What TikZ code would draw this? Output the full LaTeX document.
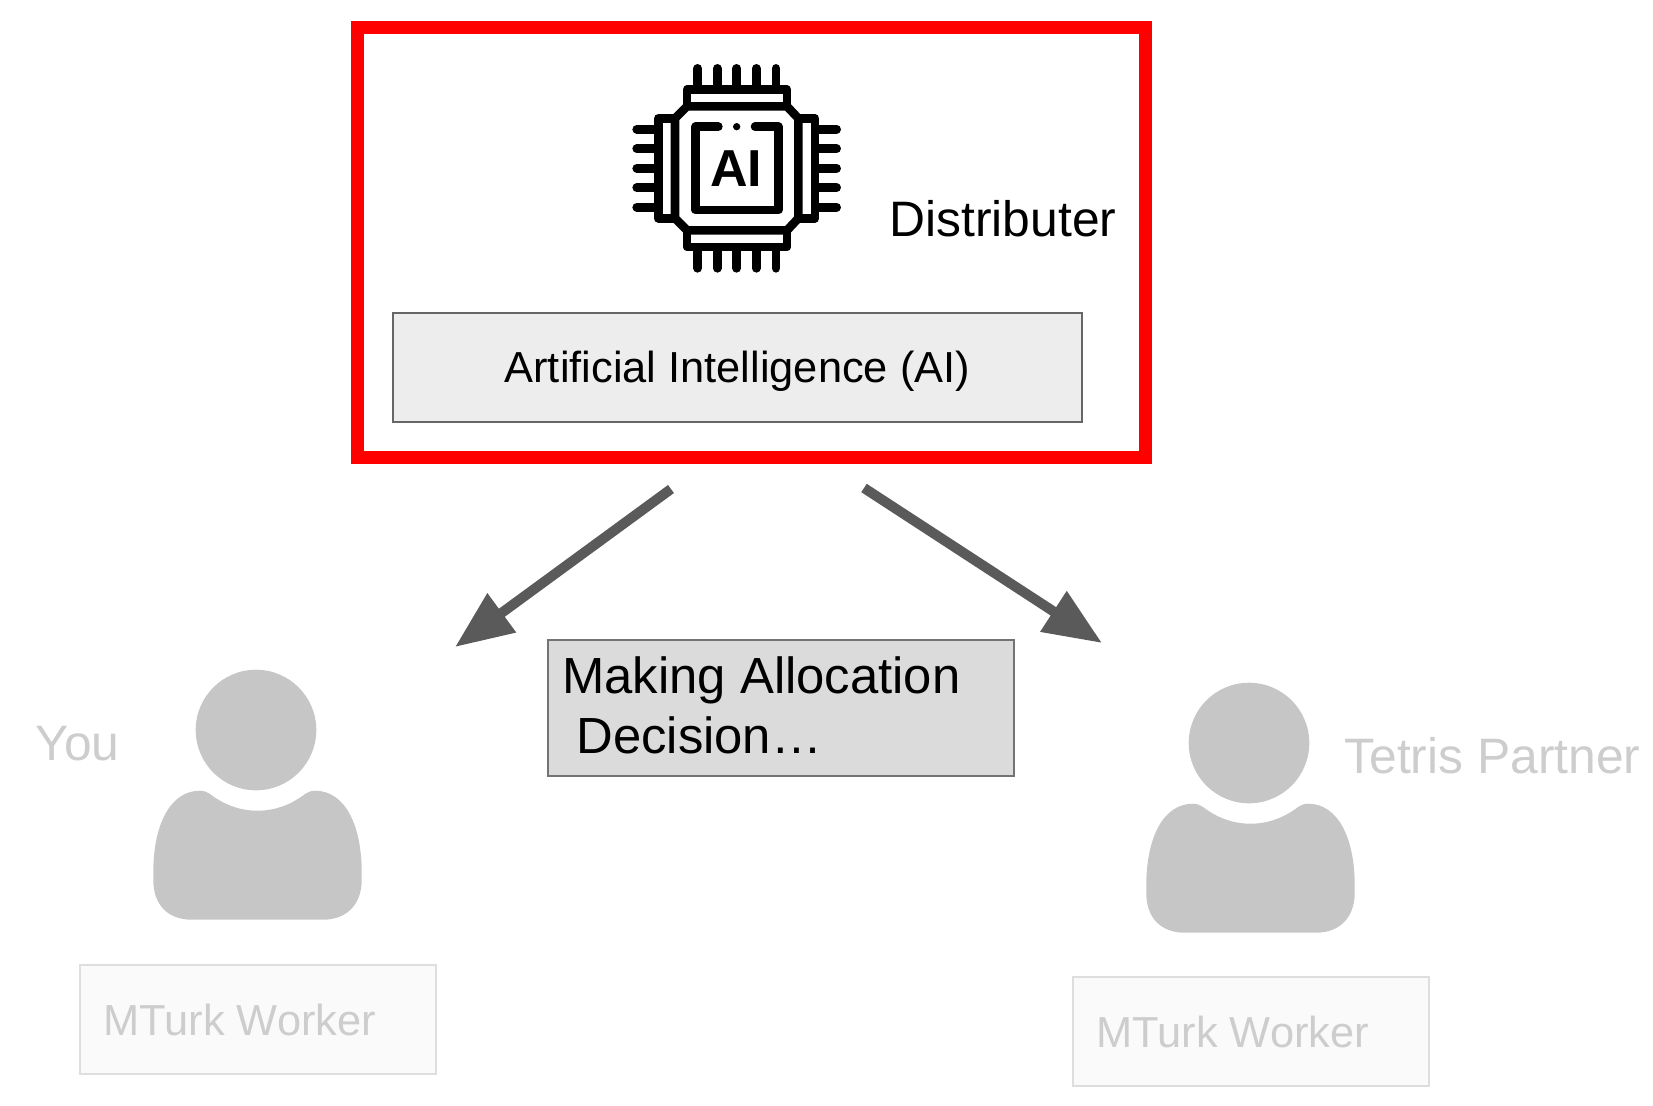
\documentclass[tikz,border=0pt]{standalone}
\usepackage{fontspec}
\setmainfont{Liberation Sans}
\usetikzlibrary{arrows.meta}
\definecolor{faded}{HTML}{CDCDCD}
\definecolor{headgray}{HTML}{C6C6C6}
\definecolor{arrowgray}{HTML}{5A5A5A}
\tikzset{
  darkarrow/.style={line width=5pt,arrowgray,-{Triangle[length=29pt,width=23pt]}},
  label/.style={anchor=base west,inner sep=0pt,font=\fontsize{24.9}{29.5}\selectfont},
  workerbox/.style={draw=black!13,fill=black!2,line width=1pt,minimum width=178pt,minimum height=54.5pt,inner sep=0pt},
  worker/.style={anchor=base west,inner sep=0pt,text=faded,font=\fontsize{21.7}{26}\selectfont},
  person/.pic={
    \fill[headgray] (0,0) circle (60.3);
    \fill[headgray] (-102.7,142.3) .. controls (-102.7,95) and (-86,60.7) .. (-56,60.7)
      .. controls (-52,60.7) and (-49,62) .. (-46,64)
      .. controls (-33,74) and (-17,80.7) .. (1.5,80.7)
      .. controls (20,80.7) and (36,74) .. (49,64)
      .. controls (52,62) and (55,60.7) .. (59,60.7)
      .. controls (89,60.7) and (105.7,95) .. (105.7,142.3)
      -- (105.7,150) .. controls (105.7,175) and (90,189.7) .. (67,189.7)
      -- (-64,189.7) .. controls (-88,189.7) and (-102.7,175) .. (-102.7,150) -- cycle;
  }
}
\begin{document}
\begin{tikzpicture}[x=.5pt,y=-.5pt]
  \useasboundingbox (0,0) rectangle (1653,1105);
  \node[draw=red,line width=6.5pt,minimum width=394pt,minimum height=215pt,inner sep=0pt] (frame) at (751.5,242.5) {};
  \node[draw=black!60,fill=black!7,line width=1pt,minimum width=344.5pt,minimum height=54.5pt,inner sep=0pt,
    text height=17pt,text depth=1.8pt,font=\fontsize{21.7}{26}\selectfont] (aibox) at (737.3,367) {Artificial Intelligence (AI)};
  \node[label] (distributer) at (889,236) {Distributer};
  \begin{scope}[shift={(600,40)},x=.5/3*1pt,y=-.5/3*1pt,line width=4.3pt,line join=round,line cap=round]
    \foreach \p in {293,352,410,469,528}{
      \draw (\p,85)--(\p,140);
      \draw (\p,630)--(\p,685);
    }
    \foreach \p in {268,326,385,443,502}{
      \draw (110,\p)--(165,\p);
      \draw (655,\p)--(710,\p);
    }
    \draw (261,199)--(261,149)--(561,149)--(561,199);
    \draw (261,571)--(261,621)--(561,621)--(561,571);
    \draw (225,235)--(175,235)--(175,535)--(225,535);
    \draw (595,235)--(645,235)--(645,535)--(595,535);
    \draw (261,199)--(561,199)--(595,235)--(595,535)--(561,571)--(261,571)--(225,535)--(225,235)--cycle;
    \draw (355,260)--(287,260)--(287,510)--(535,510)--(535,260)--(465,260);
    \fill (410,260) circle (11);
    \node[inner sep=0pt,font=\bfseries\fontsize{26}{30}\selectfont] (chiplabel) at (408,385) {AI};
  \end{scope}
  \coordinate (leftstart) at (671,489);
  \coordinate (lefttip) at (455,647);
  \coordinate (rightstart) at (864,488);
  \coordinate (righttip) at (1102,643);
  \draw[darkarrow] (leftstart)--(lefttip);
  \draw[darkarrow] (rightstart)--(righttip);
  \node[draw=black!55,fill=black!14,line width=1pt,minimum width=233pt,minimum height=68pt,inner sep=0pt] (statusbox) at (781,708.3) {};
  \node[anchor=north west,inner sep=0pt,align=left,font=\fontsize{25.4}{30}\selectfont] (status) at (562,656)
    {Making Allocation\\\hspace*{7pt}Decision…};
  \pic at (256,730) {person};
  \pic at (1249,743) {person};
  \node[label,text=faded] (you) at (35,760) {You};
  \node[label,text=faded] (partner) at (1344,773) {Tetris Partner};
  \node[workerbox] (leftbox) at (258,1019) {};
  \node[workerbox] (rightbox) at (1251,1031.5) {};
  \node[worker] (leftworker) at (103,1035) {MTurk Worker};
  \node[worker] (rightworker) at (1096,1047) {MTurk Worker};
\end{tikzpicture}
\end{document}
